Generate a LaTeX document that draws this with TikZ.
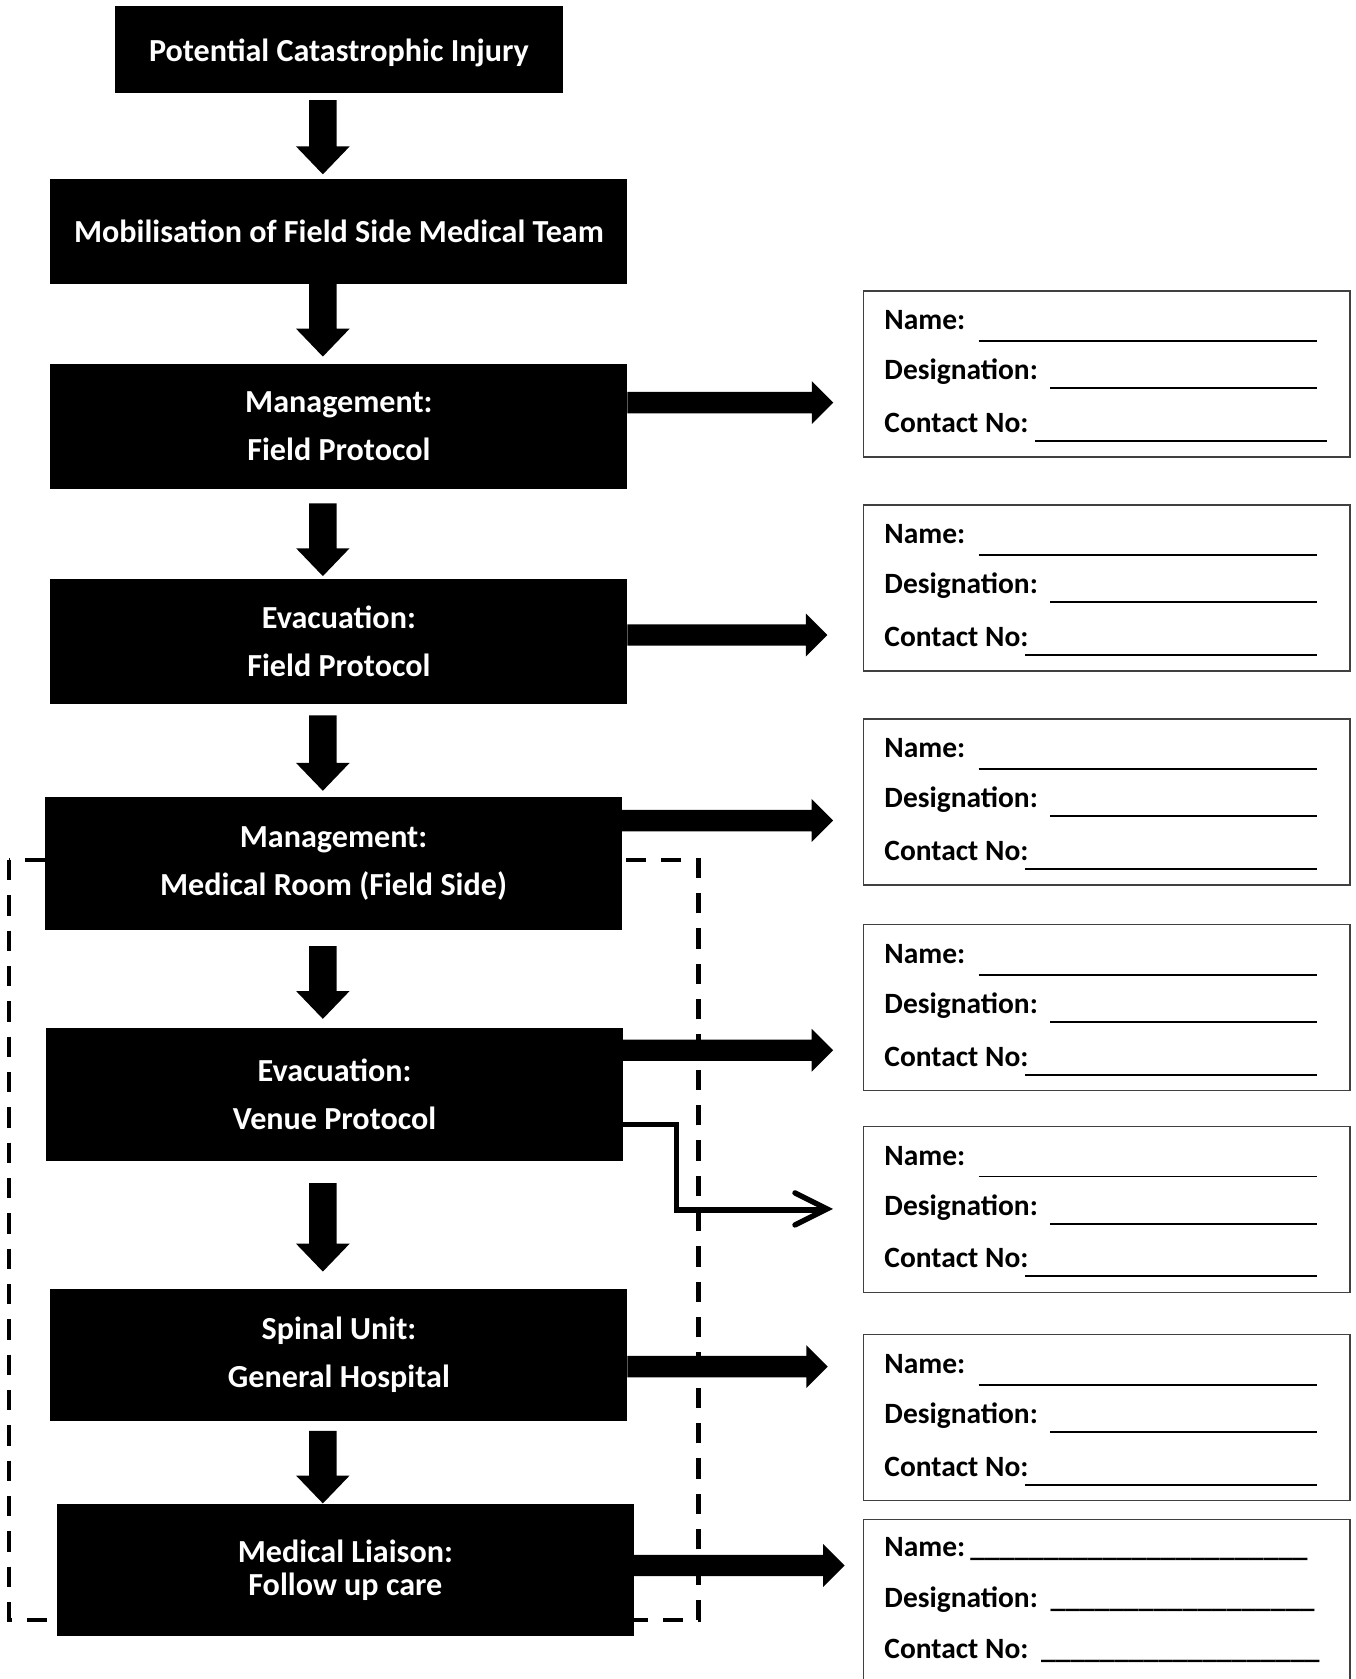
\documentclass[tikz,border=0pt]{standalone}
\usepackage{fontspec}
\setmainfont{Carlito}
\usetikzlibrary{calc}
\newcommand\dnarrow[4]{%
 \fill let \p1=(#1.south -| ax), \p2=(#2.north -| ax) in
 (\x1-12.75pt,\y1-#3pt) -- (\x1+12.75pt,\y1-#3pt) -- (\x1+12.75pt,\y2+#4pt+26pt) -- (\x1+25pt,\y2+#4pt+26pt) -- (\x1,\y2+#4pt) -- (\x1-25pt,\y2+#4pt+26pt) -- (\x1-12.75pt,\y2+#4pt+26pt) -- cycle;}
\newcommand\rtarrow[4]{%
 \fill let \p1=(#1.east), \p2=(#2.west) in
 (\x1,-#3pt+10pt) -- (\x2-#4pt-20pt,-#3pt+10pt) -- (\x2-#4pt-20pt,-#3pt+20pt) -- (\x2-#4pt,-#3pt) -- (\x2-#4pt-20pt,-#3pt-20pt) -- (\x2-#4pt-20pt,-#3pt-10pt) -- (\x1,-#3pt-10pt) -- cycle;}
\newcommand\fields[3]{%
 \node[lbl] (#1n) at ($(#1.north west)+(19.4,-36)$) {Name:};
 \node[lbl] (#1d) at ($(#1.north west)+(19.4,-83)$) {Designation:};
 \node[lbl] (#1c) at ($(#1.north west)+(19.4,-132)$) {Contact No:};
 \draw[fline] ($(#1.north west)+(107.6,-46.7)$) -- ($(#1.north west)+(423.6,-46.7)$);
 \draw[fline] ($(#1.north west)+(174.2,-91)$) -- ($(#1.north west)+(423.6,-91)$);
 \draw[fline] ($(#1.north west)+(#2,-140)$) -- ($(#1.north west)+(#3,-140)$);}
\begin{document}
\begin{tikzpicture}[x=1pt,y=1pt,
  mainbox/.style={fill=black, text=white, font=\bfseries\fontsize{30}{45}\selectfont,
    align=center, inner sep=0pt, outer sep=0pt, anchor=north west},
  rbox/.style={draw=black!75, line width=1.3pt, minimum width=454.3pt, minimum height=155pt,
    inner sep=0pt, outer sep=0pt, anchor=north west},
  lbl/.style={anchor=base west, inner sep=0pt, font=\bfseries\fontsize{27.5}{30}\selectfont},
  fline/.style={line width=1.8pt},
  dashline/.style={line width=4pt, dash pattern=on 19pt off 14pt},
  thinconn/.style={line width=5pt, line join=miter},
]
\useasboundingbox (0,0) rectangle (1266,-1568);
\clip (0,0) rectangle (1266,-1568);
\fill[white] (0,0) rectangle (1266,-1568);
\coordinate (ax) at (301.5,0);

% dashed group frame
\draw[dashline] (8.6,-803) rectangle (652.4,-1512.6);

% main boxes
\node[mainbox, minimum width=419pt, minimum height=81.6pt, text height=27pt, text depth=5pt] (b1) at (107,-5.4) {Potential Catastrophic Injury};
\node[mainbox, minimum width=539pt, minimum height=98pt] (b2) at (47,-167) {Mobilisation of Field Side Medical Team};
\node[mainbox, minimum width=539pt, minimum height=117.5pt] (b3) at (47,-339.5) {Management:\\Field Protocol};
\node[mainbox, minimum width=539pt, minimum height=116pt] (b4) at (47,-541) {Evacuation:\\Field Protocol};
\node[mainbox, minimum width=539pt, minimum height=124pt] (b5) at (42,-744.5) {Management:\\Medical Room (Field Side)};
\node[mainbox, minimum width=539pt, minimum height=124pt] (b6) at (43,-960) {Evacuation:\\Venue Protocol};
\node[mainbox, minimum width=539pt, minimum height=124pt] (b7) at (47,-1203.5) {Spinal Unit:\\General Hospital};
\node[mainbox, minimum width=539pt, minimum height=123pt, font=\bfseries\fontsize{30}{31}\selectfont] (b8) at (53,-1405) {Medical Liaison:\\Follow up care};

% right contact boxes
\node[rbox] (r1) at (806.4,-271.7) {};
\node[rbox] (r2) at (806.4,-471.5) {};
\node[rbox] (r3) at (806.4,-671.3) {};
\node[rbox] (r4) at (806.4,-863.6) {};
\node[rbox] (r5) at (806.4,-1052) {};
\node[rbox] (r6) at (806.4,-1246.5) {};
\node[rbox, minimum height=170pt] (r7) at (806.4,-1419) {};

\fields{r1}{160.3}{433}
\fields{r2}{151}{423.6}
\fields{r3}{151}{423.6}
\fields{r4}{151}{423.6}
\fields{r5}{151}{423.6}
\fields{r6}{151}{423.6}
\node[lbl] (r7n) at ($(r7.north west)+(19.4,-35)$) {Name:};
\node[lbl] (r7d) at ($(r7.north west)+(19.4,-82)$) {Designation:};
\node[lbl] (r7c) at ($(r7.north west)+(19.4,-130)$) {Contact No:};
\node[lbl] (r7nu) at ($(r7.north west)+(99.6,-35)$) {\_\_\_\_\_\_\_\_\_\_\_\_\_\_\_\_\_\_\_\_\_\_\_};
\node[lbl] (r7du) at ($(r7.north west)+(174.6,-82)$) {\_\_\_\_\_\_\_\_\_\_\_\_\_\_\_\_\_\_};
\node[lbl] (r7cu) at ($(r7.north west)+(165.6,-130)$) {\_\_\_\_\_\_\_\_\_\_\_\_\_\_\_\_\_\_\_};

% down block arrows
\dnarrow{b1}{b2}{6.4}{4.2}
\dnarrow{b2}{b3}{0}{6.5}
\dnarrow{b3}{b4}{13}{3}
\dnarrow{b4}{b5}{11}{6}
\dnarrow{b5}{b6}{15}{8.5}
\dnarrow{b6}{b7}{21}{16}
\dnarrow{b7}{b8}{8.7}{1}

% right block arrows
\rtarrow{b3}{r1}{376}{28.2}
\rtarrow{b4}{r2}{593}{33.8}
\rtarrow{b5}{r3}{766.3}{28.4}
\rtarrow{b6}{r4}{980.8}{28.4}
\rtarrow{b7}{r6}{1276.2}{33.4}
\rtarrow{b8}{r7}{1462}{17.7}

% thin connector with open head
\draw[thinconn] let \p1=(b6.east), \p2=(r5.west) in
  (\x1,-1050pt) -- (632pt,-1050pt) -- (632pt,-1130pt) -- (\x2-36pt,-1130pt);
\draw[thinconn, line cap=round] let \p2=(r5.west) in
  (\x2-64pt,-1114pt) -- (\x2-34pt,-1129pt) -- (\x2-64pt,-1144pt);
\end{tikzpicture}
\end{document}
